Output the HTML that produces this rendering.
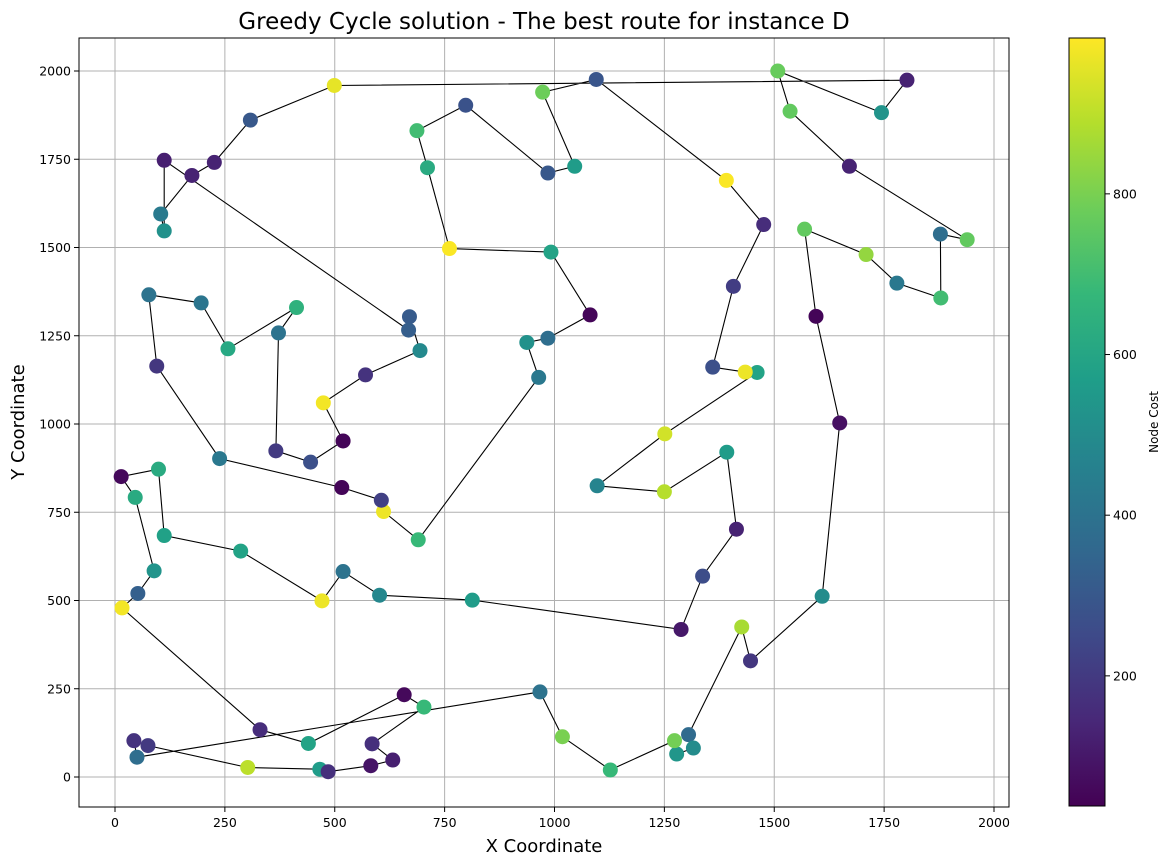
<!DOCTYPE html>
<html><head><meta charset="utf-8"><style>
body{margin:0;background:#fff;}
svg{display:block;font-family:"DejaVu Sans","Liberation Sans",sans-serif;}
</style></head><body>
<svg id="chart" width="1171" height="865" viewBox="0 0 1171 865" xmlns="http://www.w3.org/2000/svg">
<defs><linearGradient id="vir" x1="0" y1="1" x2="0" y2="0"></linearGradient></defs>
<rect width="1171" height="865" fill="#fff"/>
<text x="544" y="29" text-anchor="middle" font-size="23">Greedy Cycle solution - The best route for instance D</text>
<g id="grid"></g><g id="lines"></g><g id="points"></g><g id="axes"></g><g id="cbar"></g>
<text x="544" y="852" text-anchor="middle" font-size="18">X Coordinate</text>
<text transform="translate(24,422) rotate(-90)" text-anchor="middle" font-size="18">Y Coordinate</text>
<text transform="translate(1158,422) rotate(-90)" text-anchor="middle" font-size="12">Node Cost</text>
</svg>
<script>
const xs=[499,1802,1744,1508,1536,1671,1939,1878,1879,1779,1709,1569,1595,1649,1609,1446,1426,1305,1316,1278,1273,1127,1018,967,50,43,75,302,466,485,582,632,585,703,658,440,330,16,52,89,46,14,99,112,286,471,519,602,813,1288,1337,1414,1392,1250,1097,1251,1461,1434,1360,1407,1476,1391,1095,973,1046,985,798,687,711,761,992,1081,985,937,964,690,611,606,516,238,95,77,196,257,413,372,366,445,519,474,570,694,670,668,112,112,104,175,226,308];
const ys=[1959,1974,1882,2000,1886,1730,1522,1538,1357,1399,1480,1552,1305,1003,512,329,425,120,82,65,103,20,114,241,56,103,89,27,22,15,32,48,94,198,233,95,134,479,520,584,792,851,872,684,640,499,582,515,501,418,569,702,920,808,825,972,1146,1147,1161,1390,1565,1690,1976,1940,1730,1711,1903,1831,1726,1497,1487,1309,1243,1231,1132,672,752,784,820,902,1164,1366,1343,1213,1330,1258,924,892,952,1060,1139,1208,1304,1266,1747,1547,1595,1704,1741,1861];
const costs=[960,130,530,770,760,130,760,380,700,420,840,760,50,80,500,190,870,370,500,540,790,680,800,400,380,180,200,900,560,170,90,120,170,680,60,590,160,980,330,530,620,60,620,580,590,970,400,480,560,100,260,130,560,890,470,930,590,970,270,210,160,990,290,780,560,300,280,700,620,990,590,50,380,520,420,680,970,220,50,420,190,400,410,610,650,400,200,270,50,980,180,490,310,320,120,520,430,130,130,300];
const xTicks=[0,250,500,750,1000,1250,1500,1750,2000];
const yTicks=[0,250,500,750,1000,1250,1500,1750,2000];
const cTicks=[200,400,600,800];
const NS="http://www.w3.org/2000/svg";
const L=79,R=1009,T=38,B=807;
const sx=v=>115+v*0.4395, sy=v=>777-v*0.353;
const CMIN=38,CMAX=994;
const vir=[[68,1,84],[72,40,120],[62,74,137],[49,104,142],[38,130,142],[31,158,137],[53,183,121],[109,205,89],[180,222,44],[253,231,37]];
function col(c){let t=Math.max(0,Math.min(1,(c-CMIN)/(CMAX-CMIN)))*9;let i=Math.min(8,Math.floor(t)),f=t-i;const a=vir[i],b=vir[i+1];return `rgb(${a.map((v,k)=>Math.round(v+(b[k]-v)*f)).join(',')})`;}
function mk(tag,at,p){const e=document.createElementNS(NS,tag);for(const k in at)e.setAttribute(k,at[k]);p.appendChild(e);return e;}
const grid=document.getElementById('grid'),axes=document.getElementById('axes');
xTicks.forEach(v=>{const x=sx(v);
 const g=mk('line',{x1:x,x2:x,y1:T,y2:B,stroke:'#b0b0b0','stroke-width':1},grid);
 
 
 mk('line',{x1:x,x2:x,y1:B,y2:B+5,stroke:'#000'},axes);
 const t=mk('text',{x:x,y:B+20,'text-anchor':'middle','font-size':12.5},axes);t.textContent=v;
 
 
});
yTicks.forEach(v=>{const y=sy(v);
 const g=mk('line',{x1:L,x2:R,y1:y,y2:y,stroke:'#b0b0b0','stroke-width':1},grid);
 
 
 mk('line',{x1:L-5,x2:L,y1:y,y2:y,stroke:'#000'},axes);
 const t=mk('text',{x:L-8,y:y+4.5,'text-anchor':'end','font-size':12.5},axes);t.textContent=v;
 
 
});
const fr=mk('rect',{x:L,y:T,width:R-L,height:B-T,fill:'none',stroke:'#000','stroke-width':1},axes);


const pts=document.getElementById('points');
xs.forEach((x,i)=>{const c=mk('circle',{cx:sx(x),cy:sy(ys[i]),r:7.5,fill:col(costs[i])},pts);
 
 
});
let d=xs.map((x,i)=>(i?'L':'M')+sx(x).toFixed(1)+','+sy(ys[i]).toFixed(1)).join('')+'Z';
const pl=mk('path',{d:d,fill:'none',stroke:'#000','stroke-width':1.1},document.getElementById('lines'));


// colorbar
const gr=document.getElementById('vir');
vir.forEach((c,i)=>mk('stop',{offset:(i/9),'stop-color':`rgb(${c.join(',')})`},gr));
const cb=document.getElementById('cbar');
const CT=38,CB=806,CX=1069,CW=36;
const r=mk('rect',{x:CX,y:CT,width:CW,height:CB-CT,fill:'url(#vir)',stroke:'#000','stroke-width':1},cb);


const cy=v=>CB-(v-CMIN)/(CMAX-CMIN)*(CB-CT);
cTicks.forEach(v=>{const y=cy(v);mk('line',{x1:CX+CW,x2:CX+CW+5,y1:y,y2:y,stroke:'#000'},cb);
 const t=mk('text',{x:CX+CW+8,y:y+4.5,'font-size':12.5},cb);t.textContent=v;
 
 
});
</script>
</body></html>
